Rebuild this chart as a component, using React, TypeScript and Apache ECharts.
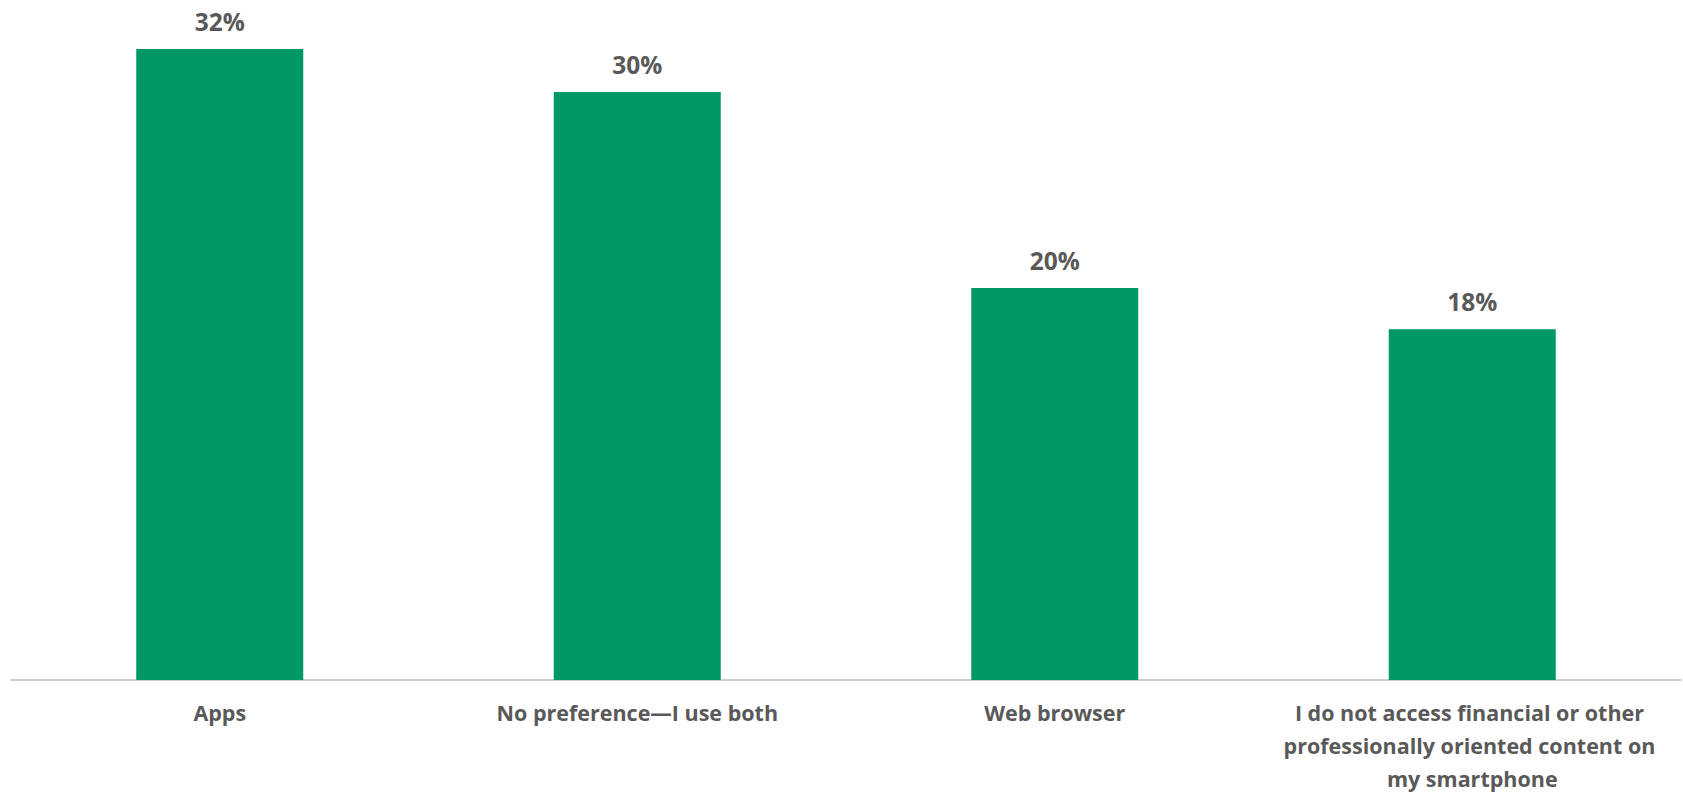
import React, { useEffect, useRef } from "react";
import * as echarts from "echarts";

const categories = [
  "Apps",
  "No preference\u2014I use both",
  "Web browser",
  "I do not access financial or other professionally oriented content on my smartphone",
];
const values = [32.2, 30.0, 20.0, 17.9];

const BAR_COLOR = "#009864";
const TEXT_COLOR = "#595959";
const FONT = "'Open Sans', 'Noto Sans', sans-serif";

export default function App() {
  const ref = useRef<HTMLDivElement>(null);
  useEffect(() => {
    if (!ref.current) return;
    const chart = echarts.init(ref.current, undefined, { renderer: "svg" });
    chart.setOption({
      animation: false,
      backgroundColor: "#ffffff",
      grid: {
        left: 11,
        right: 2,
        top: 49,
        bottom: 113,
        containLabel: false,
        outerBoundsMode: "none",
      },
      xAxis: {
        type: "category",
        data: categories,
        axisLine: { show: true, lineStyle: { color: "#BFBFBF", width: 1.5 } },
        axisTick: { show: false },
        axisLabel: {
          interval: 0,
          color: TEXT_COLOR,
          fontFamily: FONT,
          fontWeight: 700,
          fontSize: 21.5,
          lineHeight: 33,
          margin: 16,
          width: 395,
          overflow: "break",
        },
      },
      yAxis: {
        type: "value",
        min: 0,
        max: "dataMax",
        show: false,
        splitLine: { show: false },
      },
      series: [
        {
          type: "bar",
          data: values,
          barCategoryGap: "60%",
          itemStyle: { color: BAR_COLOR },
          label: {
            show: true,
            position: "top",
            distance: 15,
            color: TEXT_COLOR,
            fontFamily: FONT,
            fontWeight: 700,
            fontSize: 24.5,
            formatter: (p: any) => `${Math.round(p.value)}%`,
          },
        },
      ],
    });
    return () => chart.dispose();
  }, []);
  return (
    <div
      ref={ref}
      style={{ position: "fixed", left: 0, top: 0, width: 1683, height: 793 }}
    />
  );
}
